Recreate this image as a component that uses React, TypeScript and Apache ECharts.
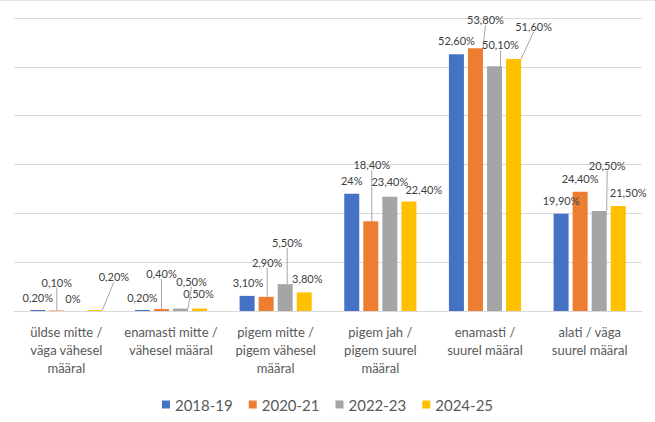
import React, { useEffect, useRef } from "react";
import * as echarts from "echarts";

const categories = [
  "üldse mitte /\nväga vähesel\nmääral",
  "enamasti mitte /\nvähesel määral",
  "pigem mitte /\npigem vähesel\nmääral",
  "pigem jah /\npigem suurel\nmääral",
  "enamasti /\nsuurel määral",
  "alati / väga\nsuurel määral",
];
const seriesNames = ["2018-19", "2020-21", "2022-23", "2024-25"];
const values2018 = [0.2, 0.2, 3.1, 24, 52.6, 19.9];
const values2020 = [0.1, 0.4, 2.9, 18.4, 53.8, 24.4];
const values2022 = [0, 0.5, 5.5, 23.4, 50.1, 20.5];
const values2024 = [0.2, 0.5, 3.8, 22.4, 51.6, 21.5];
const colors = ["#4472C4", "#ED7D31", "#A5A5A5", "#FFC000"];

// label offsets (dx, dy) relative to default top placement, and leader-line visibility
const labelShift: [number, number][][] = [
  [[0, 1], [0, 1], [1, 0], [0, 0], [0, 0], [0, 0]],
  [[0, -15], [0, -22], [1, -21], [1, -43], [10, -15], [0, 0]],
  [[-3, 1], [11, -14], [2, -28], [0, -2], [6, -8], [8, -32]],
  [[19, -20], [-1, -2], [3, 0], [15, 1], [20, -19], [10, 0]],
];
const leaders: boolean[][] = [
  [false, false, false, false, false, false],
  [true, true, true, true, true, false],
  [false, true, true, false, true, true],
  [true, false, false, false, true, false],
];

const allValues = [values2018, values2020, values2022, values2024];

const fmt = (v: number) => {
  if (v === 0) return "0%";
  if (Number.isInteger(v)) return v + "%";
  return v.toFixed(2).replace(".", ",") + "%";
};

export default function App() {
  const ref = useRef<HTMLDivElement>(null);
  useEffect(() => {
    document.body.style.margin = "0";
    if (!ref.current) return;
    const chart = echarts.init(ref.current, undefined, { renderer: "svg" });
    const font = "Lato, 'Open Sans', sans-serif";
    chart.setOption({
      animation: false,
      textStyle: { fontFamily: font },
      graphic: [
        {
          type: "line",
          shape: { x1: 0, y1: 0.5, x2: 655, y2: 0.5 },
          style: { stroke: "#e3e3e3", lineWidth: 1 },
        },
      ],
      legend: {
        top: 392,
        left: "center",
        itemWidth: 8,
        itemHeight: 8,
        itemGap: 16,
        icon: "rect",
        textStyle: { fontSize: 15, color: "#595959", fontFamily: font },
        data: seriesNames,
      },
      grid: { left: 14, right: 13, top: 18, bottom: 111, containLabel: false },
      xAxis: {
        type: "category",
        data: categories,
        axisLine: { lineStyle: { color: "#d9d9d9" } },
        axisTick: { show: false },
        axisLabel: {
          interval: 0,
          margin: 12,
          fontSize: 13,
          lineHeight: 18,
          color: "#595959",
          fontFamily: font,
        },
      },
      yAxis: {
        type: "value",
        min: 0,
        max: 60,
        interval: 10,
        axisLabel: { show: false },
        axisLine: { show: false },
        axisTick: { show: false },
        splitLine: { lineStyle: { color: "#d9d9d9" } },
      },
      series: seriesNames.map((name, s) => ({
        name,
        type: "bar",
        barWidth: 15,
        barGap: "27%",
        itemStyle: { color: colors[s] },
        label: {
          show: true,
          position: "top",
          distance: 8,
          fontSize: 11,
          color: "#404040",
          fontFamily: font,
          formatter: (p: any) => fmt(p.value),
        },
        labelLine: { show: false, lineStyle: { color: "#a6a6a6", width: 1 } },
        labelLayout: (p: any) => {
          const [dx, dy] = labelShift[s][p.dataIndex];
          return { dx, dy };
        },
        data: allValues[s].map((v, i) => ({
          value: v,
          labelLine: { show: leaders[s][i], lineStyle: { color: "#a6a6a6", width: 1 } },
        })),
      })),
    });
    return () => chart.dispose();
  }, []);
  return <div ref={ref} style={{ width: 655, height: 422 }} />;
}
